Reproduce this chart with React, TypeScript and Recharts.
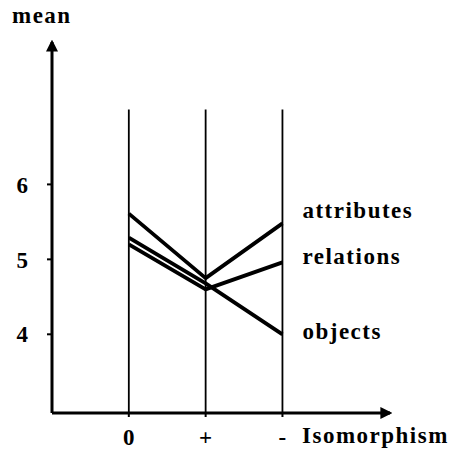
import React from "react"
import { LineChart, Line, XAxis, YAxis, ReferenceLine } from "recharts"

// conditions on the x axis (0, +, -)
const conditions = ["0", "+", "-"]
const attributes = [5.61, 4.75, 5.48]
const relations = [5.2, 4.6, 4.96]
const objects = [5.29, 4.68, 4.0]
const yTicks = [4, 5, 6]

const series = [
  { key: "attributes", values: attributes, dy: -13 },
  { key: "relations", values: relations, dy: -6 },
  { key: "objects", values: objects, dy: -3 },
]

const data = conditions.map((c, i) => ({
  x: i,
  attributes: attributes[i],
  relations: relations[i],
  objects: objects[i],
}))

const FONT = "'Liberation Serif', 'Times New Roman', serif"
const TXT = { fontFamily: FONT, fontWeight: 700, fontSize: 23, letterSpacing: 1.5, fill: "#000" }

function endLabel(name: string, dy: number) {
  return (p: any) => {
    if (p.index !== conditions.length - 1) return null
    return (
      <text x={p.x + 20} y={p.y + dy} dominantBaseline="central" {...TXT}>
        {name}
      </text>
    )
  }
}

export default function App() {
  const html = { position: "absolute" as const, fontFamily: FONT, fontWeight: 700, fontSize: 23, letterSpacing: 1.5 }
  return (
    <div style={{ position: "absolute", left: 0, top: 0, width: 453, height: 453, background: "#fff" }}>
      <LineChart width={453} height={453} data={data} margin={{ top: 42, right: 63, bottom: 10, left: 12 }}>
        <defs>
          <marker id="arr" viewBox="0 0 10 10" refX="8" refY="5" markerWidth="4" markerHeight="4" orient="auto-start-reverse">
            <path d="M0,0 L10,5 L0,10 z" fill="#000" />
          </marker>
        </defs>
        <XAxis
          type="number" dataKey="x" domain={[-1, 3.4]} ticks={[0, 1, 2]} allowDataOverflow
          tickFormatter={(v: number) => conditions[v] ?? ""} height={30}
          axisLine={{ stroke: "#000", strokeWidth: 3, markerEnd: "url(#arr)" }}
          tickLine={{ stroke: "#000", strokeWidth: 2 }} tickSize={4} tickMargin={12}
          tick={{ ...TXT, letterSpacing: 0 }}
        />
        <YAxis
          type="number" domain={[2.95, 7.9]} ticks={yTicks} allowDataOverflow width={40}
          axisLine={{ stroke: "#000", strokeWidth: 3, markerStart: "url(#arr)" }}
          tickLine={{ stroke: "#000", strokeWidth: 2 }} tickSize={5} tickMargin={19}
          tick={{ ...TXT, letterSpacing: 0 }}
        />
        {conditions.map((c, i) => (
          <ReferenceLine key={c} segment={[{ x: i, y: 2.95 }, { x: i, y: 7 }]} stroke="#000" strokeWidth={1.8} />
        ))}
        {series.map((s) => (
          <Line
            key={s.key} dataKey={s.key} type="linear" stroke="#000" strokeWidth={3.8}
            strokeLinejoin="round" dot={false} activeDot={false} isAnimationActive={false}
            label={endLabel(s.key, s.dy)}
          />
        ))}
      </LineChart>
      <div style={{ ...html, left: 12, top: 3 }}>mean</div>
      <div style={{ ...html, left: 302, top: 423 }}>Isomorphism</div>
    </div>
  )
}
